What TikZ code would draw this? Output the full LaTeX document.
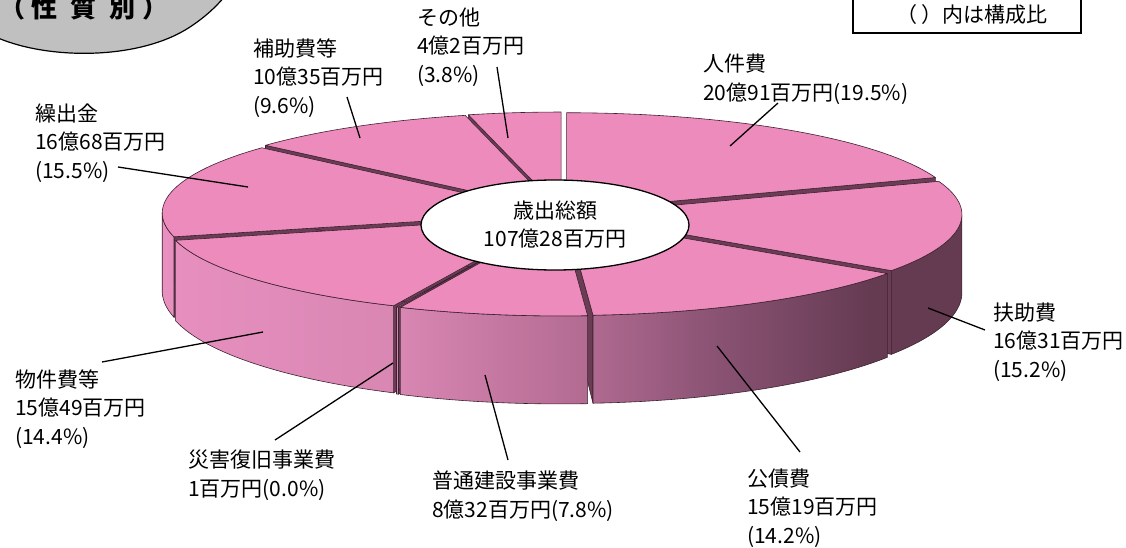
\documentclass[tikz,border=0pt]{standalone}
\usepackage{fontspec}
\setmainfont{Noto Sans CJK JP}
\usetikzlibrary{shapes.geometric}

\definecolor{topface}{HTML}{ED8BBD}
\definecolor{cutcol}{HTML}{6A3D55}
\definecolor{rimcol}{HTML}{3C2230}
\definecolor{wallA}{HTML}{E890C0}
\definecolor{wallB}{HTML}{D886B2}
\definecolor{wallC}{HTML}{B46C93}
\definecolor{wallM}{HTML}{8E5577}
\definecolor{wallD}{HTML}{653B52}
\definecolor{badgegray}{HTML}{C0C0C0}

% side colour runs across the whole cake, light on the left, dark on the right
\pgfdeclarehorizontalshading{pieside}{100bp}{color(0bp)=(wallA); color(25bp)=(wallA); color(40bp)=(wallB); color(51bp)=(wallC); color(58.5bp)=(wallM); color(69bp)=(wallD); color(100bp)=(wallD)}

% pie geometry (pixels, y down)
\def\pcx{562}
\def\pcy{214}
\def\prx{392}
\def\pry{98}
\def\pdep{78}
\def\pdry{108}
\def\pex{8}
% start/end angles, clockwise from the top
\def\slicelist{-90/-19.8, -19.8/34.92, 34.92/86.04, 86.04/114.12, 114.12/114.45, 114.45/165.96, 165.96/221.76, 221.76/256.32, 256.32/270}

\newcommand{\cutface}[1]{%
  \filldraw[cutwall] ({\pcx+\ox},{\pcy+\oy}) -- ({\pcx+\ox+\prx*cos(#1)},{\pcy+\oy+\pry*sin(#1)})
    -- ({\pcx+\ox+\prx*cos(#1)},{\pcy+\pdep+\oy+\pdry*sin(#1)}) -- ({\pcx+\ox},{\pcy+\pdep+\oy}) -- cycle;}

\tikzset{
  labeltext/.style={anchor=west, align=left, inner sep=0pt, font=\fontsize{21}{28.5}\selectfont},
  leaderline/.style={black, line width=1.3pt},
  cutwall/.style={fill=cutcol, draw=rimcol, line width=0.6pt, line join=round},
  wallline/.style={draw=rimcol, line width=0.6pt, line join=round},
  slicetop/.style={fill=topface, draw=rimcol, line width=0.6pt, line join=round},
}

\begin{document}
\begin{tikzpicture}[x=1pt,y=-1pt]
\useasboundingbox (0,0) rectangle (1126,548);

% badge
\filldraw[fill=badgegray, draw=black, line width=1.2pt] (-5,-5) -- (-5,38) -- (-2,38)
  .. controls (50,60) and (140,60) .. (190,27) .. controls (205,17) and (215,8) .. (226,-5) -- cycle;
\node[inner sep=0pt, font=\fontsize{26}{26}\selectfont\bfseries] (badge) at (84,8)
  {（\hspace{7pt}性\hspace{13pt}質\hspace{13pt}別\hspace{7pt}）};

% note box
\draw[line width=1.5pt] (853,-3) rectangle (1081,33);
\node[inner sep=0pt, font=\fontsize{21}{21}\selectfont] (note) at (972,15) {（ ）内は構成比};

% cut faces
\foreach \s/\e in \slicelist {
  \pgfmathsetmacro\m{(\s+\e)/2}
  \pgfmathsetmacro\ox{\pex*cos(\m)}
  \pgfmathsetmacro\oy{0.5*\pex*sin(\m)}
  \pgfmathtruncatemacro\vs{cos(\s)<-0.01}
  \pgfmathtruncatemacro\ve{cos(\e)>0.01}
  \ifnum\vs=1 \cutface{\s}\fi
  \ifnum\ve=1 \cutface{\e}\fi
}

% outer walls
\foreach \s/\e in \slicelist {
  \pgfmathsetmacro\m{(\s+\e)/2}
  \pgfmathsetmacro\ox{\pex*cos(\m)}
  \pgfmathsetmacro\oy{0.5*\pex*sin(\m)}
  \pgfmathsetmacro\wa{max(\s,0)}
  \pgfmathsetmacro\wb{min(\e,180)}
  \pgfmathtruncatemacro\vw{\wb>\wa}
  \ifnum\vw=1
    \begin{scope}
      \clip plot[domain=\wa:\wb, samples=30] ({\pcx+\ox+\prx*cos(\x)},{\pcy+\oy+\pry*sin(\x)})
        -- plot[domain=\wb:\wa, samples=30] ({\pcx+\ox+\prx*cos(\x)},{\pcy+\pdep+\oy+\pdry*sin(\x)}) -- cycle;
      \shade[shading=pieside] (160,100) rectangle (966,420);
    \end{scope}
    \path[wallline] plot[domain=\wa:\wb, samples=30] ({\pcx+\ox+\prx*cos(\x)},{\pcy+\oy+\pry*sin(\x)})
      -- plot[domain=\wb:\wa, samples=30] ({\pcx+\ox+\prx*cos(\x)},{\pcy+\pdep+\oy+\pdry*sin(\x)}) -- cycle;
  \fi
}

% top faces
\foreach \s/\e in \slicelist {
  \pgfmathsetmacro\m{(\s+\e)/2}
  \pgfmathsetmacro\ox{\pex*cos(\m)}
  \pgfmathsetmacro\oy{0.5*\pex*sin(\m)}
  \path[slicetop] ({\pcx+\ox},{\pcy+\oy})
    -- plot[domain=\s:\e, samples=40] ({\pcx+\ox+\prx*cos(\x)},{\pcy+\oy+\pry*sin(\x)}) -- cycle;
}

% total
\node[ellipse, draw, fill=white, line width=1.3pt, minimum width=268pt, minimum height=90pt,
  inner sep=0pt, align=center, font=\fontsize{21}{28}\selectfont] (total) at (555,225)
  {歳出総額\\107億28百万円};

% labels
\node[labeltext] (sonota) at (417,47) {その他\\4億2百万円\\(3.8\%)};
\node[labeltext] (hojo) at (253,78) {補助費等\\10億35百万円\\(9.6\%)};
\node[labeltext] (kuridashi) at (35,143) {繰出金\\16億68百万円\\(15.5\%)};
\node[labeltext] (jinken) at (703,79) {人件費\\20億91百万円(19.5\%)};
\node[labeltext] (fujo) at (993,342) {扶助費\\16億31百万円\\(15.2\%)};
\node[labeltext] (kousai) at (747,508) {公債費\\15億19百万円\\(14.2\%)};
\node[labeltext] (futsu) at (432,496) {普通建設事業費\\8億32百万円(7.8\%)};
\node[labeltext] (saigai) at (188,475) {災害復旧事業費\\1百万円(0.0\%)};
\node[labeltext] (bukken) at (15,409) {物件費等\\15億49百万円\\(14.4\%)};

% leader lines
\coordinate (sonota-a) at (497,67);   \coordinate (sonota-b) at (508,138);
\coordinate (hojo-a) at (347,97);     \coordinate (hojo-b) at (360,138);
\coordinate (kuridashi-a) at (118,167); \coordinate (kuridashi-b) at (248,187);
\coordinate (jinken-a) at (778,103);  \coordinate (jinken-b) at (730,146);
\coordinate (fujo-a) at (985,330);    \coordinate (fujo-b) at (928,308);
\coordinate (kousai-a) at (800,452);  \coordinate (kousai-b) at (717,346);
\coordinate (futsu-a) at (508,460);   \coordinate (futsu-b) at (485,375);
\coordinate (saigai-a) at (275,440);  \coordinate (saigai-b) at (393,363);
\coordinate (bukken-a) at (102,362);  \coordinate (bukken-b) at (263,332);
\foreach \n in {sonota,hojo,kuridashi,jinken,fujo,kousai,futsu,saigai,bukken}
  \draw[leaderline] (\n-a) -- (\n-b);
\end{tikzpicture}
\end{document}
